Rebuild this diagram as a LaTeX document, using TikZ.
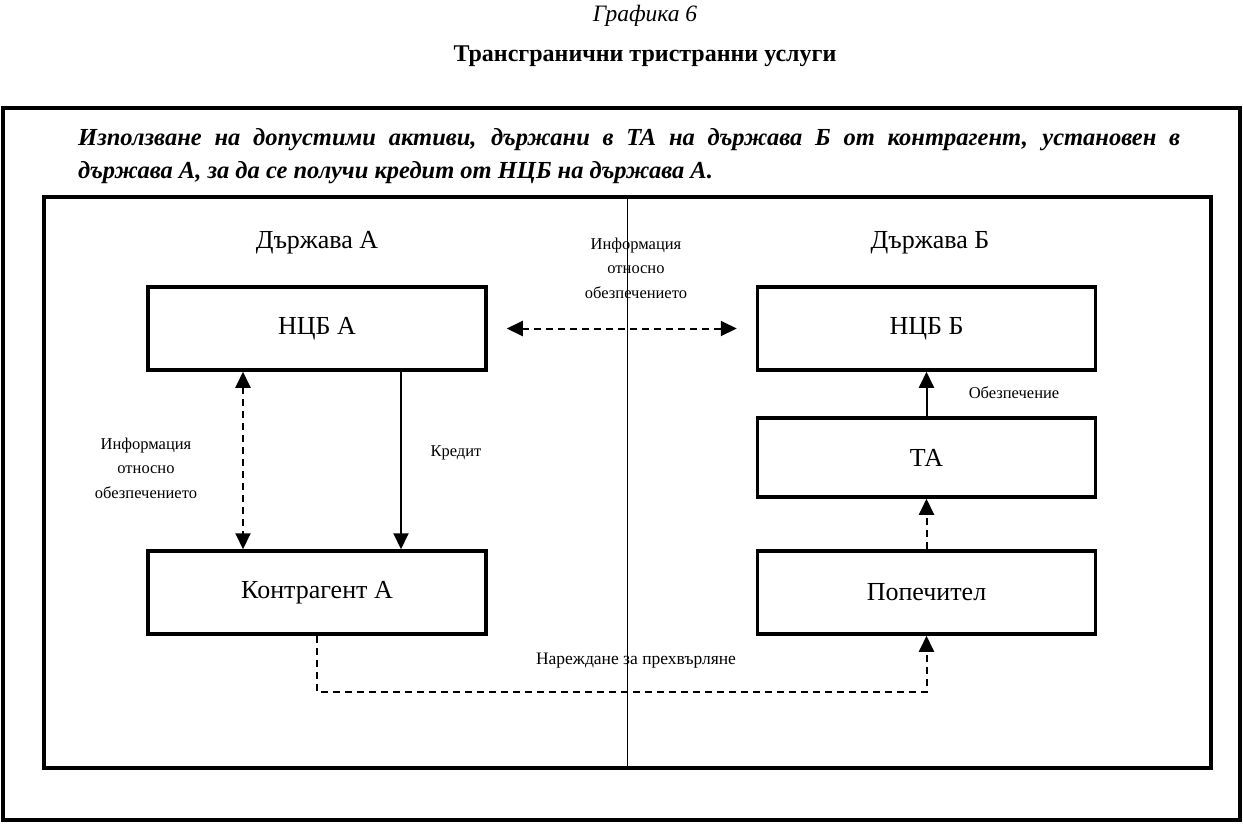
\documentclass[tikz,border=0pt]{standalone}
\usepackage{fontspec}
\setmainfont{Liberation Serif}
\usetikzlibrary{arrows.meta,calc}
\begin{document}
\begin{tikzpicture}[x=1pt,y=-1pt,
  box/.style={draw,line width=3.5pt,minimum width=338pt,minimum height=83pt,inner sep=0pt,font=\fontsize{26}{30}\selectfont},
  frame/.style={draw,line width=3.5pt,inner sep=0pt},
  lbl/.style={font=\fontsize{16.5}{24.5}\selectfont,align=center,inner sep=0pt},
  head/.style={font=\fontsize{26}{30}\selectfont,inner sep=0pt},
  conn/.style={line width=2pt,-{Triangle[length=16pt,width=15pt]}},
  dconn/.style={line width=2pt,dash pattern=on 7pt off 5pt,{Triangle[length=16pt,width=15pt]}-{Triangle[length=16pt,width=15pt]}},
  dconnone/.style={line width=2pt,dash pattern=on 7pt off 5pt,-{Triangle[length=16pt,width=15pt]}}]
\useasboundingbox (0,0) rectangle (1243,823);
% titles
\node[font=\fontsize{23.5}{27}\selectfont\itshape,inner sep=0pt] (t1) at (645,16) {Графика 6};
\node[font=\fontsize{24}{27}\selectfont\bfseries,inner sep=0pt] (t2) at (645,56) {Трансгранични тристранни услуги};
% frames
\node[frame,minimum width=1237pt,minimum height=712pt] (outer) at (621.5,464) {};
\node[frame,minimum width=1167pt,minimum height=571pt] (inner) at (627.5,482.5) {};
\draw[line width=1.2pt] (inner.north) -- (inner.south);
% header
\node[font=\fontsize{24.5}{30}\selectfont\bfseries\itshape,inner sep=0pt,anchor=west] (h1) at (78,140)
  {\makebox[1102pt][s]{Използване на допустими активи, държани в ТА на държава Б от контрагент, установен в}};
\node[font=\fontsize{24.5}{30}\selectfont\bfseries\itshape,inner sep=0pt,anchor=west] (h2) at (78,173)
  {държава А, за да се получи кредит от НЦБ на държава А.};
% column headings
\node[head] (dA) at (317,243) {Държава А};
\node[head] (dB) at (930,243) {Държава Б};
% boxes
\node[box] (ncbA) at (317,328.5) {НЦБ А};
\node[box] (ncbB) at (926.5,328.5) {НЦБ Б};
\node[box,minimum height=79pt] (ta) at (926.5,457.5) {ТА};
\node[box] (ka) at (317,592.5) {Контрагент А};
\node[box] (pop) at (926.5,592.5) {Попечител};
% labels
\node[lbl] (info1) at (636,268) {Информация\\относно\\обезпечението};
\node[lbl] (info2) at (146,468) {Информация\\относно\\обезпечението};
\node[lbl] (kred) at (456,453) {Кредит};
\node[lbl] (obez) at (1014,393) {Обезпечение};
\node[lbl,font=\fontsize{17.5}{20}\selectfont] (nar) at (636,661) {Нареждане за прехвърляне};
% connectors
\coordinate (lx) at (243,0);
\coordinate (cx) at (401,0);
\coordinate (bot) at (0,692);
\draw[dconn,shorten <=19pt,shorten >=19pt] (ncbA.east) -- (ncbB.west);
\draw[dconn] (ncbA.south -| lx) -- (ka.north -| lx);
\draw[conn] (ncbA.south -| cx) -- (ka.north -| cx);
\draw[conn] (ta.north) -- (ncbB.south);
\draw[dconnone] (pop.north) -- (ta.south);
\draw[dconnone] (ka.south) -- (ka.south |- bot) -| (pop.south);
\end{tikzpicture}
\end{document}
